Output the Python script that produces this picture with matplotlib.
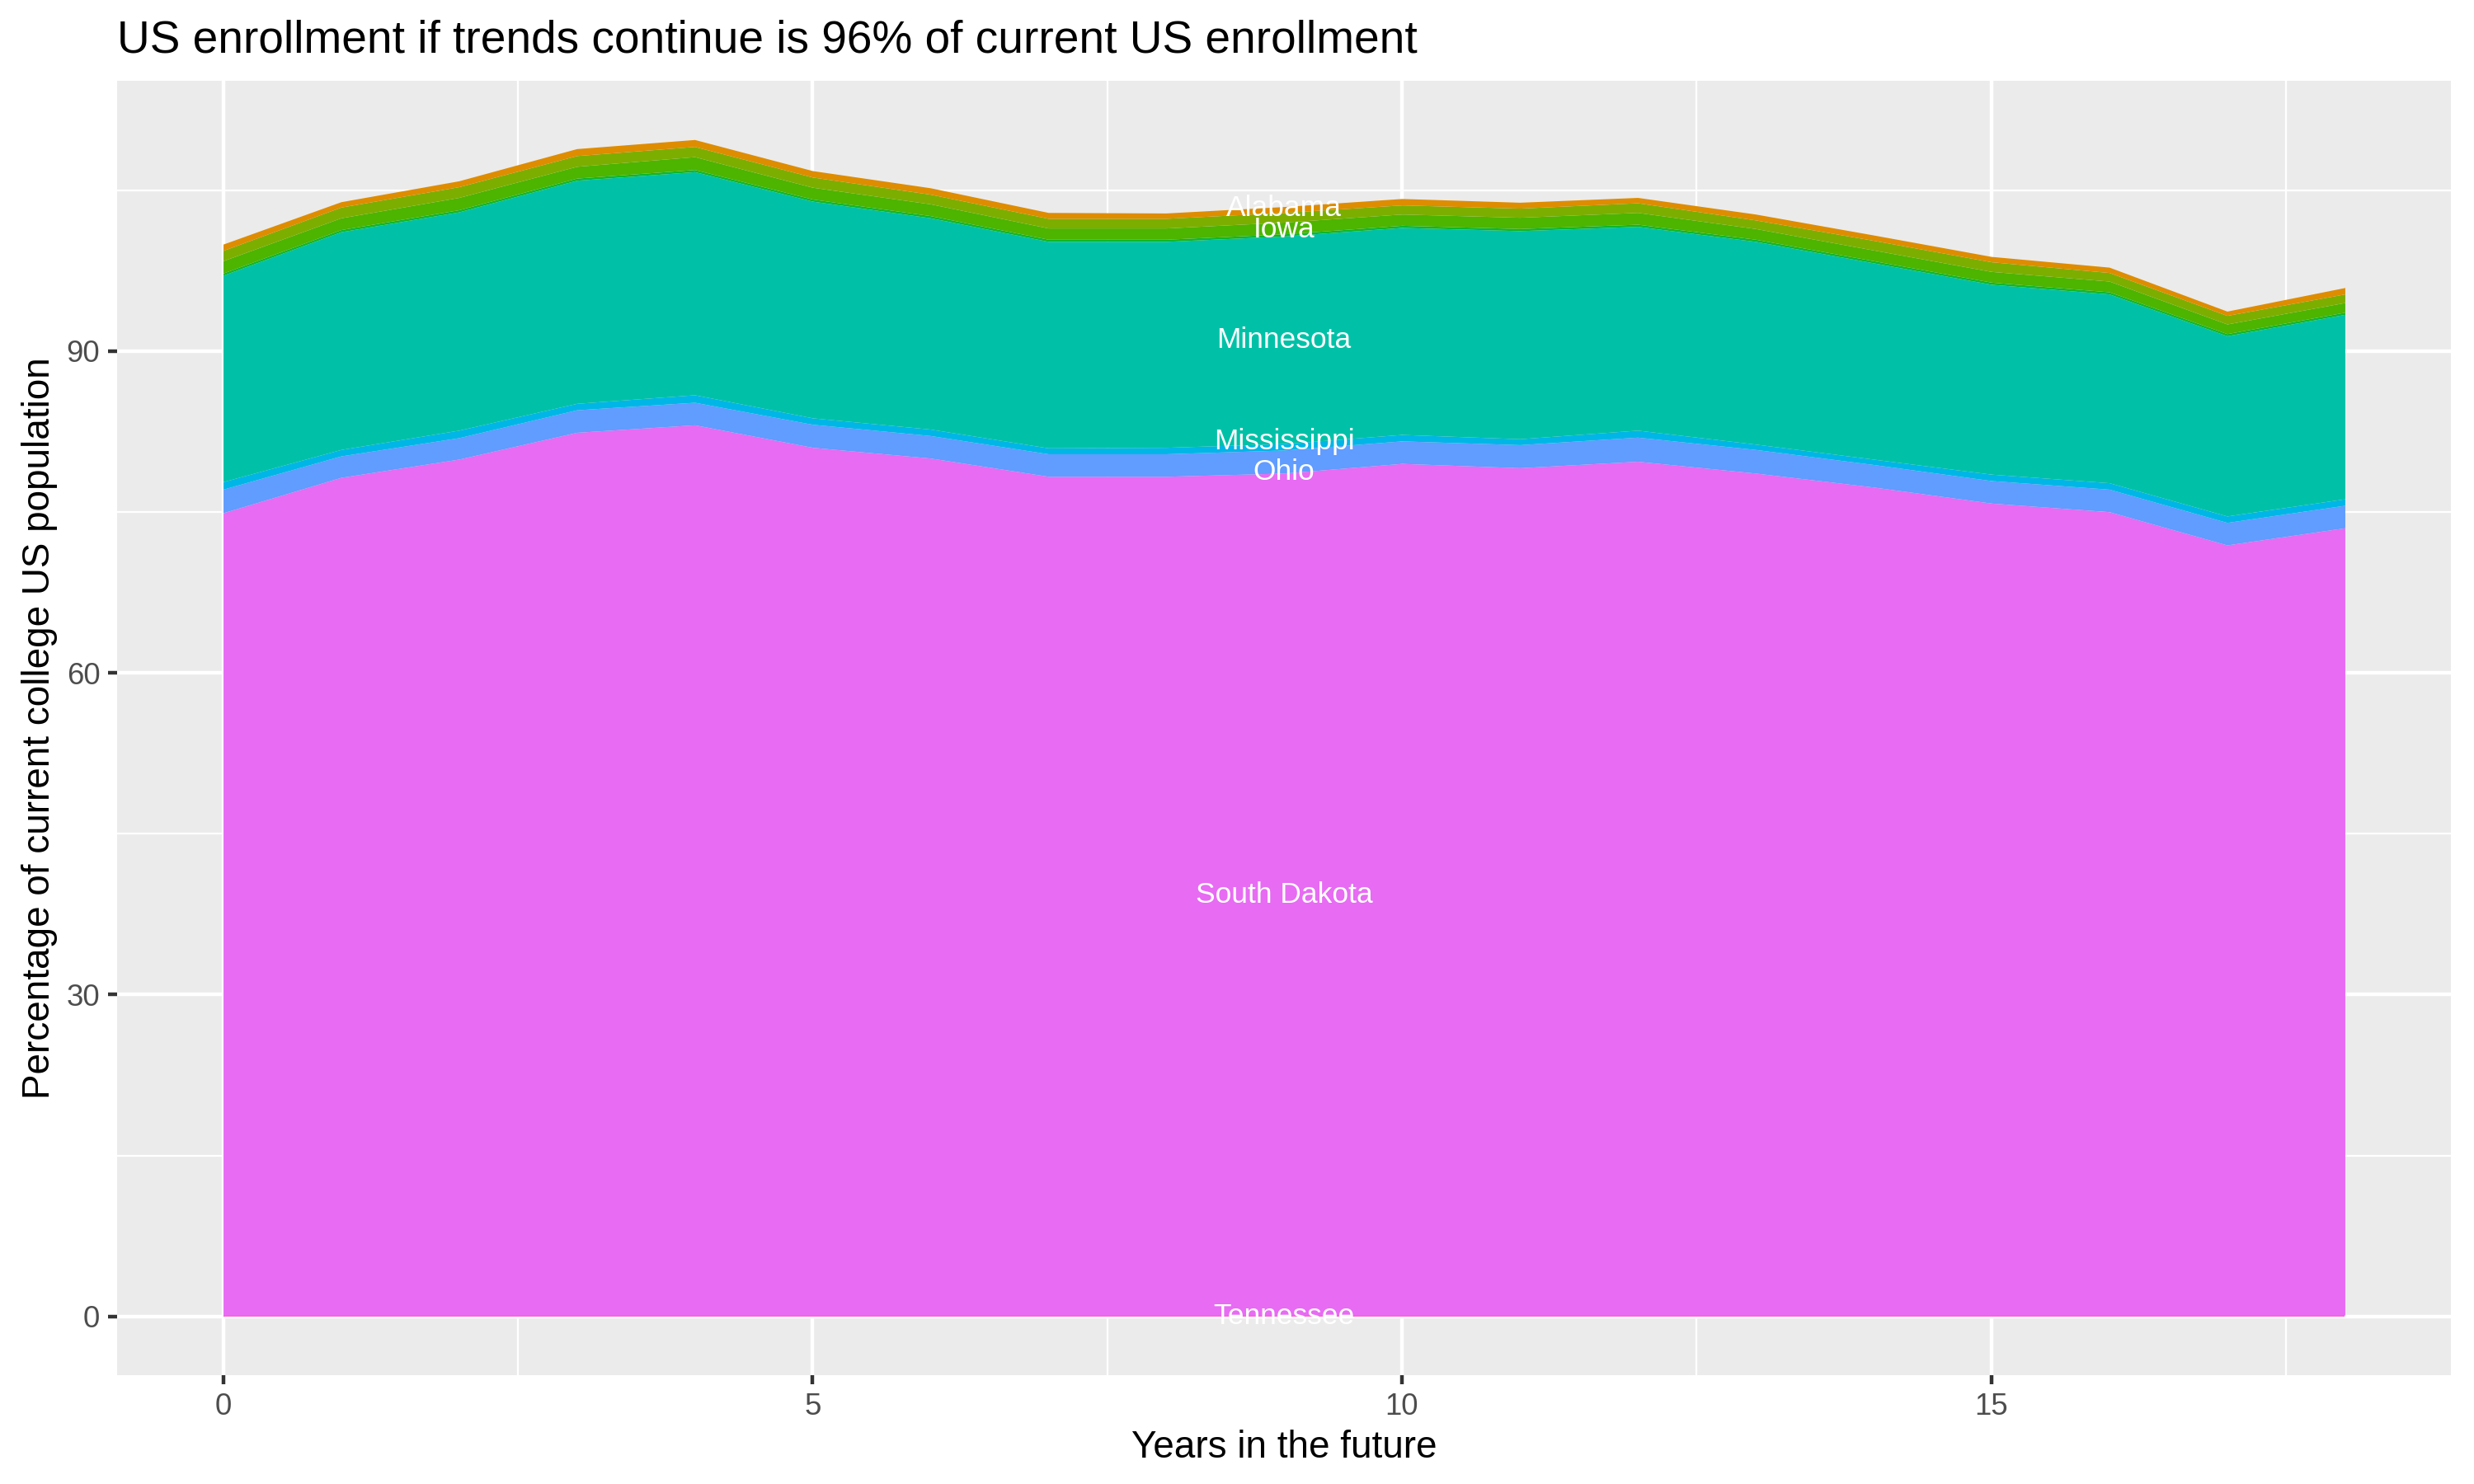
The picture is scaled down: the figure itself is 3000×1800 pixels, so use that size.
import numpy as np
import matplotlib
matplotlib.use('Agg')
import matplotlib.pyplot as plt

plt.rcParams['font.family'] = ['Liberation Sans', 'DejaVu Sans']

# Years in the future
years = list(range(19))

# Percentage of current college US population, per state (bottom to top of the stack)
tennessee = [0.12, 0.12, 0.12, 0.12, 0.12, 0.12, 0.12, 0.12, 0.12, 0.12,
             0.12, 0.12, 0.12, 0.12, 0.12, 0.12, 0.12, 0.12, 0.12]
south_dakota = [74.8, 78.1, 79.8, 82.3, 83.0, 80.9, 79.9, 78.2, 78.2, 78.5,
                79.4, 79.0, 79.6, 78.5, 77.2, 75.7, 74.9, 71.8, 73.4]
ohio = [2.2, 2.0, 2.0, 2.1, 2.1, 2.15, 2.1, 2.1, 2.1, 2.15,
        2.1, 2.15, 2.25, 2.2, 2.1, 2.1, 2.1, 2.1, 2.1]
mississippi = [0.7, 0.6, 0.7, 0.6, 0.7, 0.6, 0.6, 0.55, 0.6, 0.6,
               0.6, 0.55, 0.65, 0.5, 0.5, 0.6, 0.6, 0.6, 0.6]
minnesota = [19.25, 20.3, 20.35, 20.8, 20.8, 20.2, 19.7, 19.25, 19.2, 19.35,
             19.3, 19.4, 19.0, 18.9, 18.3, 17.7, 17.6, 16.8, 17.2]
michigan = [0.2, 0.2, 0.2, 0.2, 0.2, 0.2, 0.2, 0.2, 0.2, 0.2,
            0.2, 0.2, 0.2, 0.2, 0.2, 0.2, 0.2, 0.2, 0.2]
iowa = [1.15, 1.1, 1.15, 1.1, 1.2, 1.1, 1.1, 1.05, 1.05, 1.1,
        1.05, 1.05, 1.1, 1.0, 1.0, 1.0, 1.0, 0.9, 0.9]
indiana = [0.96, 1.0, 1.0, 1.0, 0.95, 0.95, 0.9, 0.9, 0.9, 0.9,
           0.85, 0.85, 0.9, 0.8, 0.9, 0.9, 0.8, 0.8, 0.8]
alabama = [0.59, 0.5, 0.55, 0.65, 0.65, 0.6, 0.6, 0.55, 0.5, 0.55,
           0.6, 0.55, 0.5, 0.55, 0.5, 0.5, 0.5, 0.4, 0.6]

states = ['Tennessee', 'South Dakota', 'Ohio', 'Mississippi', 'Minnesota',
          'Michigan', 'Iowa', 'Indiana', 'Alabama']
series = [tennessee, south_dakota, ohio, mississippi, minnesota,
          michigan, iowa, indiana, alabama]
colors = ['#F863D2', '#E76BF3', '#619CFF', '#00B6E6', '#00C1A7',
          '#0CB72E', '#4DB400', '#7CAE00', '#DE8C00']

# Labels written into the stack (at year 9)
label_names = ['Alabama', 'Iowa', 'Minnesota', 'Mississippi', 'Ohio',
               'South Dakota', 'Tennessee']
label_y = [103.35, 101.3, 91.0, 81.55, 78.7, 39.3, 0.0]
label_x = 9

fig = plt.figure(figsize=(10, 6), dpi=300)
ax = fig.add_axes([0.0473, 0.0733, 0.9434, 0.8723])
ax.set_facecolor('#EBEBEB')

# Stacked areas
base = np.zeros(len(years))
for name, vals, col in zip(states, series, colors):
    top = base + np.array(vals)
    ax.fill_between(years, base, top, color=col, linewidth=0, zorder=2, label=name)
    base = top

for name, y in zip(label_names, label_y):
    ax.text(label_x, y, name, color='white', fontsize=8.5,
            ha='center', va='center', zorder=3)

# Scales
ymax = base.max()
pad = ymax * 0.05
ax.set_xlim(-0.9, 18.9)
ax.set_ylim(-pad, ymax + pad)
ax.set_xticks([0, 5, 10, 15])
ax.set_yticks([0, 30, 60, 90])
ax.set_xticks([2.5, 7.5, 12.5, 17.5], minor=True)
ax.set_yticks([15, 45, 75, 105], minor=True)

# ggplot grey theme look
ax.grid(which='major', color='white', linewidth=1.07, zorder=1)
ax.grid(which='minor', color='white', linewidth=0.53, zorder=1)
ax.set_axisbelow(True)
for s in ax.spines.values():
    s.set_visible(False)
ax.tick_params(which='major', length=2.75, width=1.07, color='#333333',
               labelcolor='#4D4D4D', labelsize=8.8, pad=2.2)
ax.tick_params(which='minor', length=0)

ax.set_xlabel('Years in the future', fontsize=11, color='black', labelpad=2.5)
ax.set_ylabel('Percentage of current college US population', fontsize=11,
              color='black', labelpad=2.5)
fig.text(0.0473, 0.965, 'US enrollment if trends continue is 96% of current US enrollment',
         fontsize=13.2, ha='left', va='baseline', color='black')

plt.savefig('out.png', dpi=300)
plt.close()
